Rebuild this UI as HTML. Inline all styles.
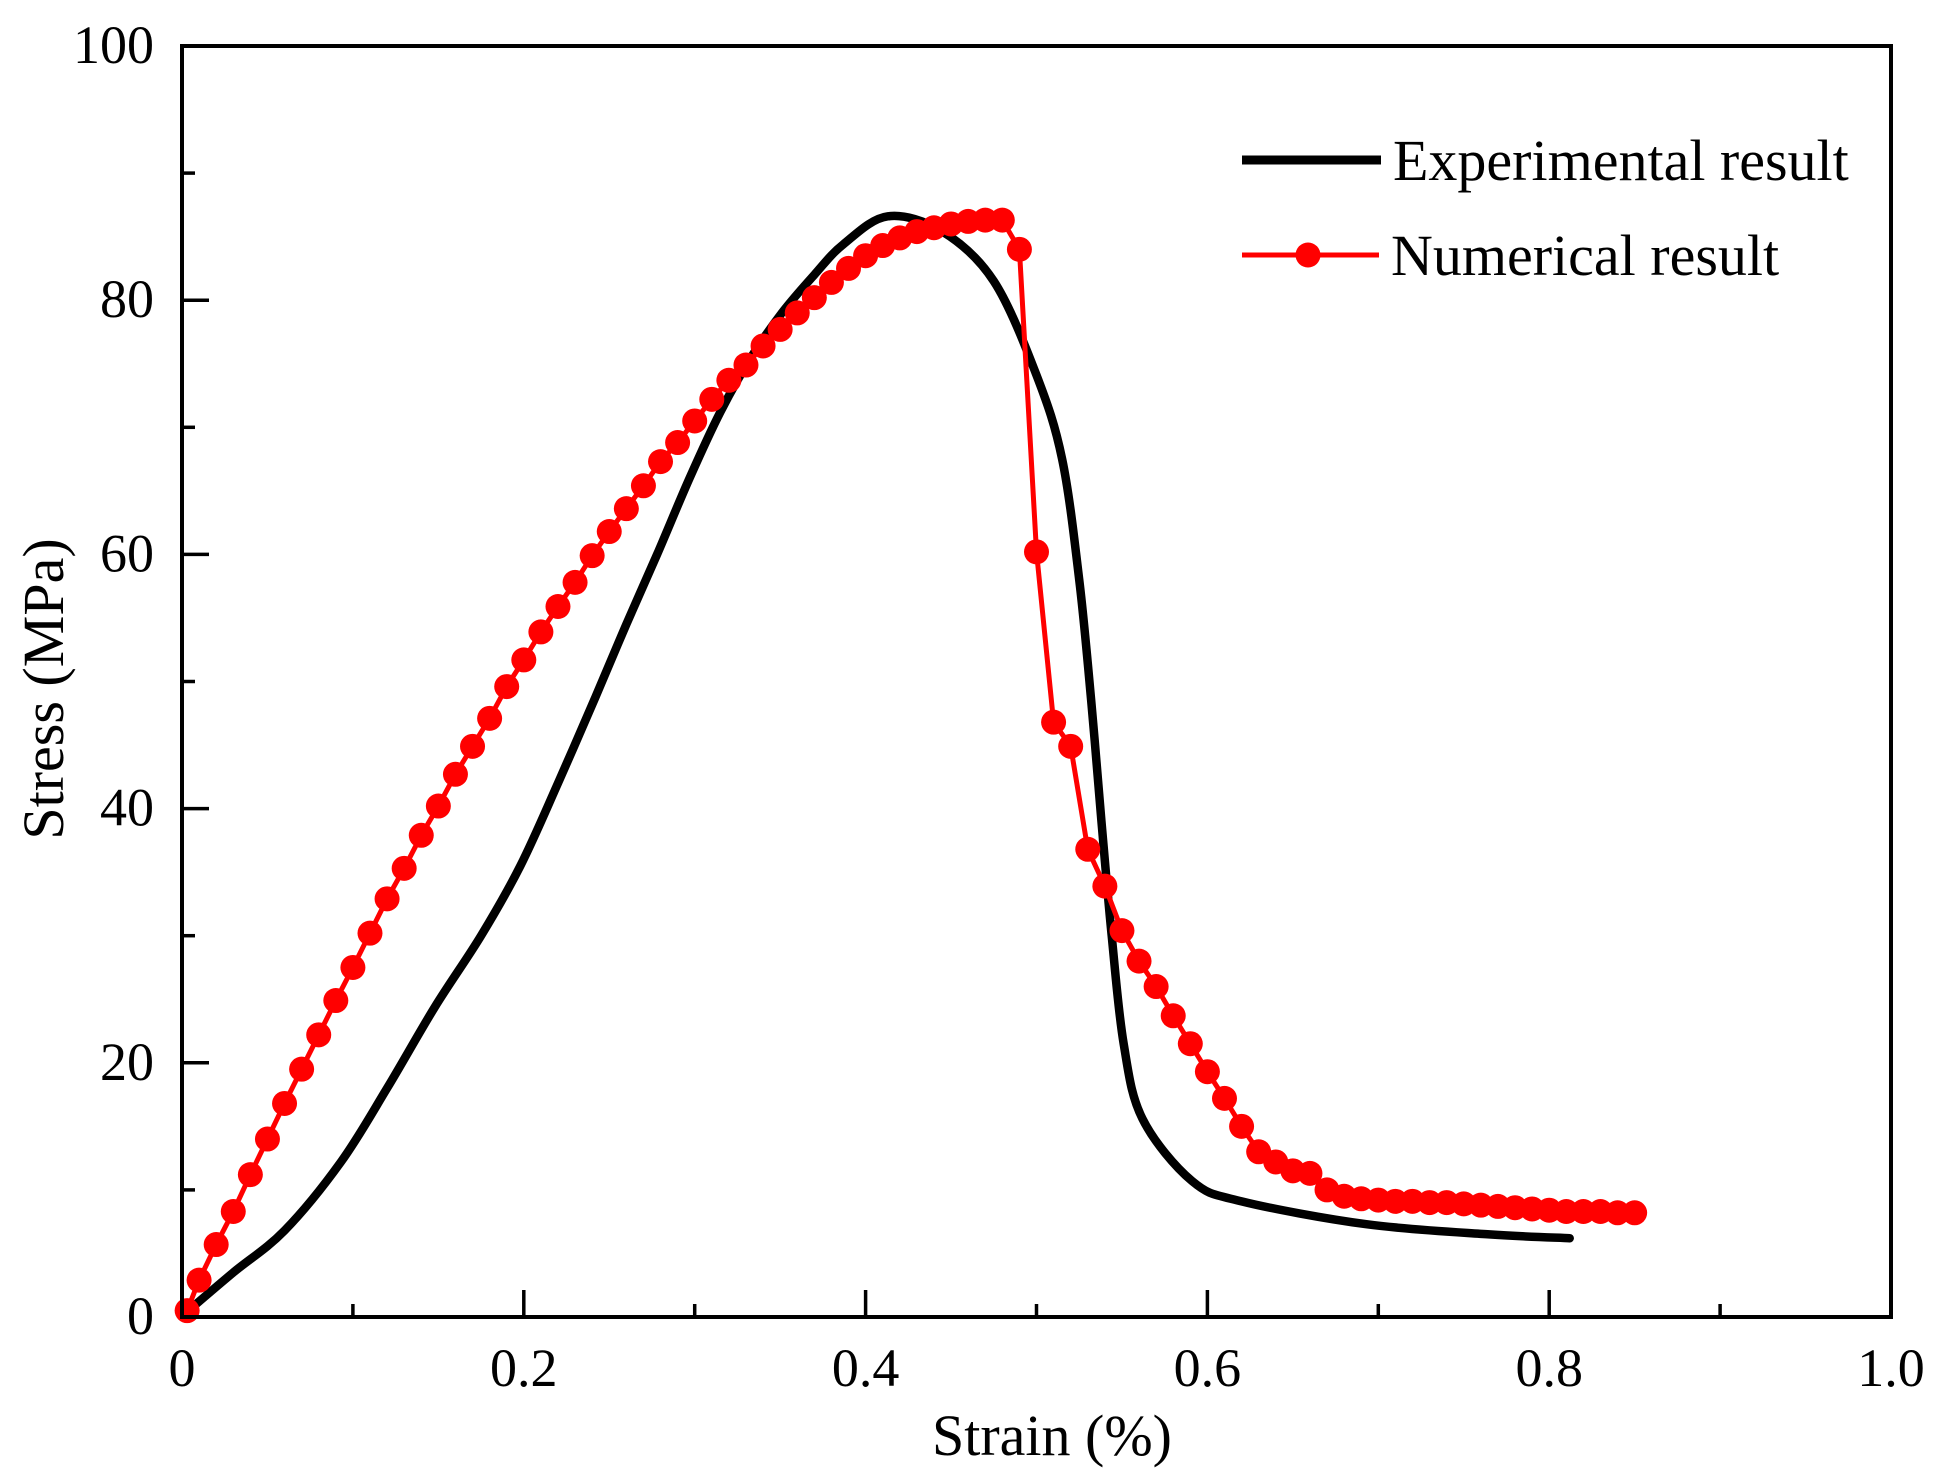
<!DOCTYPE html>
<html><head><meta charset="utf-8"><style>
html,body{margin:0;padding:0;background:#fff;}
svg{display:block;font-family:"Liberation Serif","Times New Roman",serif;}
</style></head><body>
<svg id="chart" width="1945" height="1478" viewBox="0 0 1945 1478">
<g id="marks"></g>
<g id="axes"></g>
<g id="legend"></g>
</svg>
<script>
const xTicks = [0, 0.2, 0.4, 0.6, 0.8, 1.0];
const xTickLabels = ["0", "0.2", "0.4", "0.6", "0.8", "1.0"];
const yTicks = [0, 20, 40, 60, 80, 100];
const yTickLabels = ["0", "20", "40", "60", "80", "100"];
const expStrain = [0.002,0.03,0.06,0.093,0.12,0.148,0.175,0.198,0.22,0.242,0.26,0.278,0.297,0.315,0.333,0.351,0.37,0.387,0.413,0.445,0.475,0.5,0.515,0.525,0.532,0.538,0.544,0.551,0.562,0.591,0.62,0.693,0.765,0.812];
const expStress = [0.3,3.5,6.8,12.2,18.0,24.4,30.0,35.5,42.0,48.8,54.5,60.0,66.0,71.2,75.5,79.0,82.0,84.4,86.6,85.4,81.5,74.1,67.5,58.0,48.5,39.0,30.0,21.5,15.6,10.7,9.1,7.3,6.5,6.2];
const numStrain = [0.003,0.01,0.02,0.03,0.04,0.05,0.06,0.07,0.08,0.09,0.10,0.11,0.12,0.13,0.14,0.15,0.16,0.17,0.18,0.19,0.20,0.21,0.22,0.23,0.24,0.25,0.26,0.27,0.28,0.29,0.30,0.31,0.32,0.33,0.34,0.35,0.36,0.37,0.38,0.39,0.40,0.41,0.42,0.43,0.44,0.45,0.46,0.47,0.48,0.49,0.50,0.51,0.52,0.53,0.54,0.55,0.56,0.57,0.58,0.59,0.60,0.61,0.62,0.63,0.64,0.65,0.66,0.67,0.68,0.69,0.70,0.71,0.72,0.73,0.74,0.75,0.76,0.77,0.78,0.79,0.80,0.81,0.82,0.83,0.84,0.85];
const numStress = [0.5,2.9,5.7,8.3,11.2,14.0,16.8,19.5,22.2,24.9,27.5,30.2,32.9,35.3,37.9,40.2,42.7,44.9,47.1,49.6,51.7,53.9,55.9,57.8,59.9,61.8,63.6,65.4,67.3,68.8,70.5,72.2,73.7,74.9,76.4,77.7,79.0,80.2,81.4,82.5,83.5,84.3,84.9,85.4,85.7,86.0,86.2,86.3,86.3,84.0,60.2,46.8,44.9,36.8,33.9,30.4,28.0,26.0,23.7,21.5,19.3,17.2,15.0,13.0,12.2,11.5,11.3,10.0,9.5,9.3,9.2,9.1,9.1,9.0,9.0,8.9,8.8,8.7,8.6,8.5,8.4,8.3,8.3,8.3,8.2,8.2];

const L=182,R=1891,T=46,B=1317;
const sx=v=>L+(v-0)/(1.0-0)*(R-L);
const sy=v=>B-(v-0)/(100-0)*(B-T);
const NS="http://www.w3.org/2000/svg";
function mk(tag,attrs,parent){const e=document.createElementNS(NS,tag);for(const k in attrs)e.setAttribute(k,attrs[k]);parent.appendChild(e);return e;}
const marks=document.getElementById('marks'),axes=document.getElementById('axes'),legend=document.getElementById('legend');

const ep=expStrain.map((x,i)=>[sx(x),sy(expStress[i])]);
let d="M"+ep[0][0]+","+ep[0][1];
for(let i=0;i<ep.length-1;i++){const p0=ep[Math.max(0,i-1)],p1=ep[i],p2=ep[i+1],p3=ep[Math.min(ep.length-1,i+2)];
d+=" C"+(p1[0]+(p2[0]-p0[0])/6)+","+(p1[1]+(p2[1]-p0[1])/6)+" "+(p2[0]-(p3[0]-p1[0])/6)+","+(p2[1]-(p3[1]-p1[1])/6)+" "+p2[0]+","+p2[1];}
const expLine=mk('path',{d:d,fill:'none',stroke:'#000','stroke-width':8.5,'stroke-linejoin':'round','stroke-linecap':'round'},marks);



const np=numStrain.map((x,i)=>sx(x)+","+sy(numStress[i])).join(" ");
const numLine=mk('polyline',{points:np,fill:'none',stroke:'#f00','stroke-width':5,'stroke-linejoin':'round'},marks);


numStrain.forEach((x,i)=>{const c=mk('circle',{cx:sx(x),cy:sy(numStress[i]),r:12.5,fill:'#f00'},marks);

});

const frame=mk('rect',{x:L,y:T,width:R-L,height:B-T,fill:'none',stroke:'#000','stroke-width':4},axes);


for(let v=0.1;v<1.0;v+=0.2){mk('line',{x1:sx(v),x2:sx(v),y1:B,y2:B-13,stroke:'#000','stroke-width':3.5},axes);}
xTicks.forEach((v,i)=>{mk('line',{x1:sx(v),x2:sx(v),y1:B,y2:B-27,stroke:'#000','stroke-width':3.5},axes);
const t=mk('text',{x:sx(v),y:1386,'font-size':54,'text-anchor':'middle',fill:'#000'},axes);t.textContent=xTickLabels[i];

});
for(let v=10;v<100;v+=20){mk('line',{x1:L,x2:L+13,y1:sy(v),y2:sy(v),stroke:'#000','stroke-width':3.5},axes);}
yTicks.forEach((v,i)=>{mk('line',{x1:L,x2:L+27,y1:sy(v),y2:sy(v),stroke:'#000','stroke-width':3.5},axes);
const t=mk('text',{x:154,y:sy(v)+17,'font-size':54,'text-anchor':'end',fill:'#000'},axes);t.textContent=yTickLabels[i];

});
const xt=mk('text',{x:1052,y:1455,'font-size':58,'text-anchor':'middle',fill:'#000'},axes);xt.textContent="Strain (%)";


const yt=mk('text',{x:0,y:0,'font-size':58,'text-anchor':'middle',fill:'#000',transform:'translate(63,689) rotate(-90)'},axes);yt.textContent="Stress (MPa)";



const l1=mk('line',{x1:1242,x2:1381,y1:160,y2:160,stroke:'#000','stroke-width':9},legend);


const lt1=mk('text',{x:1393,y:180,'font-size':58,fill:'#000'},legend);lt1.textContent="Experimental result";


const l2=mk('line',{x1:1242,x2:1379,y1:255,y2:255,stroke:'#f00','stroke-width':5},legend);


const lc=mk('circle',{cx:1308,cy:255,r:12.5,fill:'#f00'},legend);


const lt2=mk('text',{x:1391,y:275,'font-size':58,fill:'#000'},legend);lt2.textContent="Numerical result";


</script>
</body></html>
